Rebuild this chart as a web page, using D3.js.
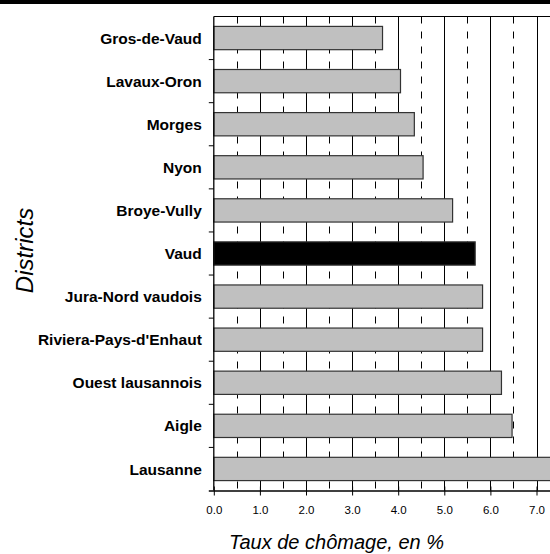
<!DOCTYPE html>
<html>
<head>
<meta charset="utf-8">
<script src="https://cdn.jsdelivr.net/npm/d3@7"></script>
<style>
  html, body { margin: 0; padding: 0; background: #fff; }
  svg { display: block; }
</style>
</head>
<body>
<svg id="chart" width="550" height="554"></svg>
<script>
const categories = ["Gros-de-Vaud", "Lavaux-Oron", "Morges", "Nyon", "Broye-Vully", "Vaud",
  "Jura-Nord vaudois", "Riviera-Pays-d'Enhaut", "Ouest lausannois", "Aigle", "Lausanne"];
const values = [3.66, 4.05, 4.35, 4.54, 5.18, 5.67, 5.83, 5.83, 6.24, 6.47, 7.6];
const highlight = ["Vaud"];
const tickValues = [0, 1, 2, 3, 4, 5, 6, 7];
const tickLabels = ["0.0", "1.0", "2.0", "3.0", "4.0", "5.0", "6.0", "7.0"];
const halfValues = [0.5, 1.5, 2.5, 3.5, 4.5, 5.5, 6.5, 7.5];
const xTitle = "Taux de chômage, en %";
const yTitle = "Districts";

(function () {
const svg = d3.select("#chart");
const W = 550, H = 554;
const pLeft = 213.8, pTop = 16.5, pBottom = 490.5;

const x = d3.scaleLinear().domain([0, 8]).range([pLeft, pLeft + 8 * 46.1]);
const y = d3.scaleBand().domain(categories).range([pTop, pBottom])
  .paddingInner(0.46).paddingOuter(0.23);

// top thick rule
svg.append("rect").attr("x", 0).attr("y", 0).attr("width", W).attr("height", 4).attr("fill", "#000");

// gridlines
const g = svg.append("g");
g.selectAll("line.major").data(tickValues.slice(1)).join("line")
  .attr("x1", d => Math.round(x(d)) + 0.5).attr("x2", d => Math.round(x(d)) + 0.5)
  .attr("y1", pTop).attr("y2", pBottom)
  .attr("stroke", "#000").attr("stroke-width", 1);
g.selectAll("line.minor").data(halfValues).join("line")
  .attr("x1", d => Math.round(x(d)) + 0.5).attr("x2", d => Math.round(x(d)) + 0.5)
  .attr("y1", pTop).attr("y2", pBottom)
  .attr("stroke", "#000").attr("stroke-width", 1)
  .attr("stroke-dasharray", "7,8");

// bars
svg.append("g").selectAll("rect").data(categories).join("rect")
  .attr("x", x(0))
  .attr("y", d => y(d))
  .attr("width", (d, i) => x(values[i]) - x(0))
  .attr("height", y.bandwidth())
  .attr("fill", d => highlight.includes(d) ? "#000" : "#c0c0c0")
  .attr("stroke", "#333")
  .attr("stroke-width", 1.2);

// top border
svg.append("line").attr("x1", pLeft).attr("x2", W).attr("y1", pTop).attr("y2", pTop)
  .attr("stroke", "#000").attr("stroke-width", 1);

// y axis line
svg.append("line").attr("x1", pLeft).attr("x2", pLeft).attr("y1", pTop).attr("y2", pBottom)
  .attr("stroke", "#000").attr("stroke-width", 1.3);

// y boundary ticks
const bounds = categories.slice(1).map(c => y(c) - y.step() * y.paddingInner() / 2);
svg.append("g").selectAll("line").data(bounds).join("line")
  .attr("x1", pLeft - 5).attr("x2", pLeft).attr("y1", d => d).attr("y2", d => d)
  .attr("stroke", "#000").attr("stroke-width", 1);

// y labels
svg.append("g").selectAll("text").data(categories).join("text")
  .attr("x", pLeft - 12)
  .attr("y", d => y(d) + y.bandwidth() / 2)
  .attr("dy", "0.36em")
  .attr("text-anchor", "end")
  .attr("font-family", "Liberation Sans, Arial, sans-serif")
  .attr("font-weight", "bold")
  .attr("font-size", "15.5px")
  .attr("fill", "#000")
  .text(d => d);

// x axis
const xAxis = d3.axisBottom(x).tickValues(tickValues)
  .tickFormat((d, i) => tickLabels[i]).tickSize(5).tickSizeOuter(0);
const ax = svg.append("g").attr("transform", `translate(0,${pBottom})`).call(xAxis);
ax.select(".domain").attr("d", `M${pLeft - 5},0.5H${W}`).attr("stroke", "#000").attr("stroke-width", 1.3);
ax.selectAll(".tick line").attr("y1", -4).attr("y2", 5).attr("stroke", "#000");
ax.selectAll(".tick text").attr("y", 15)
  .attr("font-family", "Liberation Sans Narrow, Arial Narrow, sans-serif")
  .attr("font-size", "11.5px").attr("fill", "#000");

// axis titles
svg.append("text").attr("x", 336.5).attr("y", 549)
  .attr("text-anchor", "middle")
  .attr("font-family", "Liberation Sans, Arial, sans-serif")
  .attr("font-style", "italic").attr("font-size", "20px")
  .text(xTitle);

svg.append("text").attr("transform", `translate(33,${(pTop + pBottom) / 2 - 3}) rotate(-90)`)
  .attr("text-anchor", "middle")
  .attr("font-family", "Liberation Sans, Arial, sans-serif")
  .attr("font-style", "italic").attr("font-size", "24px")
  .text(yTitle);
})();
</script>
</body>
</html>
